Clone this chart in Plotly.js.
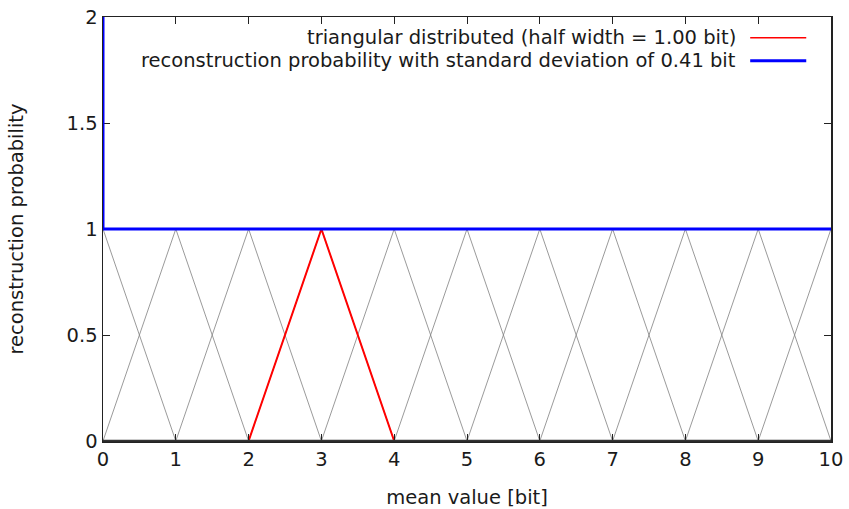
<!DOCTYPE html>
<html><head><meta charset="utf-8">
<script src="https://cdn.plot.ly/plotly-3.0.1.min.js"></script>
<style>html,body{margin:0;padding:0;background:#fff}#chart{width:849px;height:509px}</style>
</head><body><div id="chart"></div>
<script>
// data
const triangleCenters = [0,1,2,3,4,5,6,7,8,9,10];
const halfWidth = 1.0;
const redX = [0, 2, 3, 4, 10];
const redY = [0, 0, 1, 0, 0];
const blueX = [0, 0, 10];
const blueY = [2.5, 1, 1];
const xTicks = [0,1,2,3,4,5,6,7,8,9,10];
const yTicks = [0, 0.5, 1, 1.5, 2];
const yTickText = ['0','0.5','1','1.5','2'];
const legendRed = 'triangular distributed (half width = 1.00 bit)';
const legendBlue = 'reconstruction probability with standard deviation of 0.41 bit';

const traces = triangleCenters.map(c => ({
  x: [c - halfWidth, c, c + halfWidth], y: [0, 1, 0], mode: 'lines',
  line: {color: '#808080', width: 0.8}, showlegend: false, hoverinfo: 'skip'
}));
traces.push({x: redX, y: redY, mode: 'lines', line: {color: '#ff0000', width: 2}, showlegend: false});
traces.push({x: blueX, y: blueY, mode: 'lines', line: {color: '#0000ff', width: 3}, showlegend: false});

const font = {family: 'DejaVu Sans, sans-serif', size: 19.5, color: '#1a1a1a'};
const axisCommon = {showgrid: false, zeroline: false, showline: true, linecolor: '#222', linewidth: 1.5,
  mirror: 'allticks', ticks: 'inside', ticklen: 7, tickcolor: '#222', tickwidth: 1,
  tickfont: font};

const layout = {
  width: 849, height: 509,
  margin: {l: 103, r: 18, t: 17, b: 68},
  paper_bgcolor: '#fff', plot_bgcolor: '#fff',
  font: font,
  xaxis: Object.assign({}, axisCommon, {range: [0, 10], tickvals: xTicks, ticktext: xTicks.map(String),
    layer: 'above traces', linewidth: 1.5,
    title: {text: 'mean value [bit]', font: font, standoff: 20}}),
  yaxis: Object.assign({}, axisCommon, {range: [0, 2], tickvals: yTicks, ticktext: yTickText,
    layer: 'below traces',
    title: {text: 'reconstruction probability', font: font, standoff: 38}}),
  annotations: [
    {xref: 'paper', yref: 'paper', x: 0.872, y: 0.951, xanchor: 'right', yanchor: 'middle', text: legendRed, showarrow: false, font: font},
    {xref: 'paper', yref: 'paper', x: 0.872, y: 0.897, xanchor: 'right', yanchor: 'middle', text: legendBlue, showarrow: false, font: font}
  ],
  shapes: [
    {type: 'line', xref: 'paper', yref: 'paper', x0: 0.889, x1: 0.966, y0: 0.951, y1: 0.951, line: {color: '#ff0000', width: 1.5}},
    {type: 'line', xref: 'paper', yref: 'paper', x0: 0.889, x1: 0.966, y0: 0.897, y1: 0.897, line: {color: '#0000ff', width: 3}},
    {type: 'line', xref: 'paper', yref: 'paper', x0: 0, x1: 1, y0: 0.001, y1: 0.001, layer: 'above', line: {color: '#333', width: 1.6}}
  ]
};
Plotly.newPlot('chart', traces, layout, {displayModeBar: false, staticPlot: true});
</script>
</body></html>
